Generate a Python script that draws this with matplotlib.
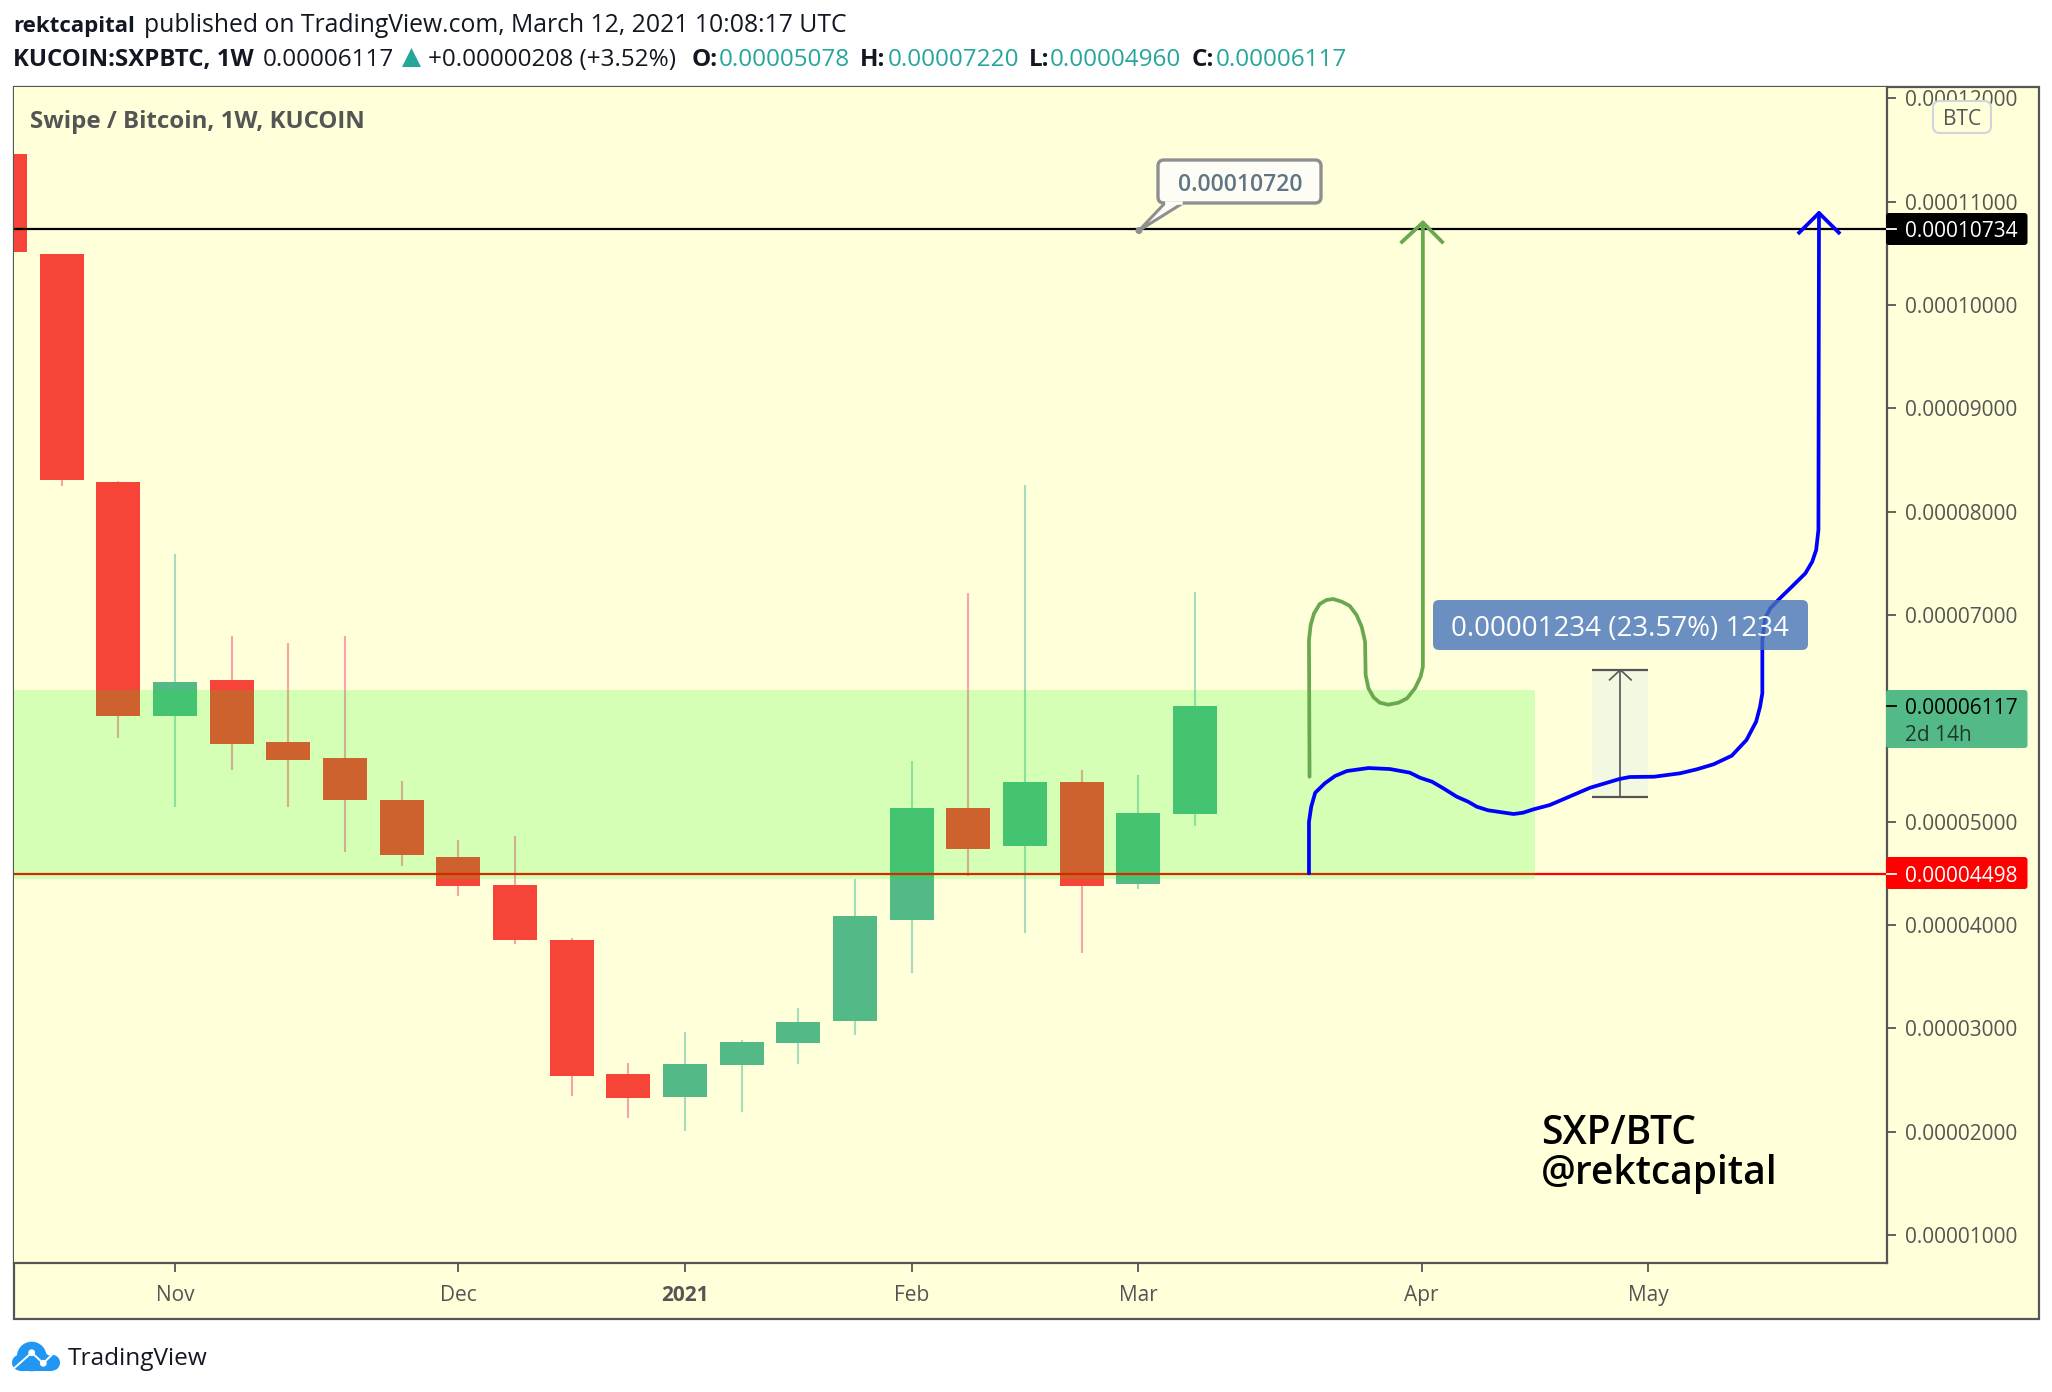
# ========== IMPORTS ==========
import numpy as np
import matplotlib
matplotlib.use("Agg")
import matplotlib.pyplot as plt
from matplotlib.patches import Rectangle, FancyBboxPatch, Polygon, Circle
from matplotlib.transforms import blended_transform_factory

plt.rcParams['font.family'] = ['Open Sans', 'DejaVu Sans']
plt.rcParams['ytick.alignment'] = 'center_baseline'

# ========== DATA (prices in satoshi, x in weeks from the Nov candle) ==========
weeks = list(range(-3, 19))
opens = [11460, 10490, 8290, 6020, 6370, 5770, 5620, 5210, 4660, 4390, 3860, 2560,
         2340, 2650, 2860, 3070, 4050, 5130, 4770, 5380, 4400, 5078]
closes = [10516, 8310, 6020, 6350, 5750, 5600, 5210, 4680, 4380, 3860, 2540, 2330,
          2660, 2870, 3060, 4090, 5130, 4740, 5380, 4380, 5080, 6117]
highs = [11460, 10490, 8300, 7590, 6800, 6730, 6800, 5390, 4820, 4860, 3880, 2670,
         2970, 2890, 3200, 4450, 5590, 7210, 8260, 5500, 5450, 7220]
lows = [10516, 8250, 5810, 5140, 5500, 5140, 4710, 4570, 4280, 3820, 2350, 2130,
        2010, 2190, 2660, 2940, 3540, 4480, 3920, 3730, 4350, 4960]

# the 6000 tick sits behind the last price label in the original
price_ticks = [1000, 2000, 3000, 4000, 5000, 7000, 8000, 9000, 10000, 11000, 12000]
date_ticks = [0, 5, 9, 13, 17, 22, 26]
date_labels = ['Nov', 'Dec', '2021', 'Feb', 'Mar', 'Apr', 'May']

top_line = 10734
bottom_line = 4498
callout_week = 17.01
callout_price = 10720
zone_low = 4446
zone_high = 6275
zone_end = 24.0
ruler_low = 5236
ruler_high = 6470
ruler_weeks = [25.01, 26.0]

green_x = [20.02, 20.01, 20.04, 20.10, 20.20, 20.32, 20.44, 20.59, 20.73, 20.85, 20.94, 21.00,
           21.01, 21.06, 21.15, 21.26, 21.41, 21.59, 21.74, 21.88, 21.98, 22.02, 22.02]
green_y = [5436, 6759, 6904, 7017, 7107, 7146, 7155, 7129, 7088, 7000, 6887, 6742,
           6420, 6291, 6204, 6152, 6133, 6152, 6194, 6291, 6403, 6500, 10798]
green_head_x = [21.65, 22.02, 22.36]
green_head_y = [10610, 10798, 10610]

blue_x = [20.01, 20.01, 20.05, 20.12, 20.29, 20.47, 20.68, 21.06, 21.44, 21.79, 21.97, 22.18,
          22.38, 22.62, 22.82, 22.97, 23.17, 23.62, 23.79, 23.97, 24.26, 24.63, 24.97, 25.49,
          25.67, 26.10, 26.56, 26.85, 27.15, 27.47, 27.73, 27.90, 27.97, 28.01, 28.01, 28.06,
          28.15, 28.32, 28.53, 28.77, 28.89, 28.96, 29.00, 29.01]
blue_y = [4501, 5000, 5146, 5281, 5372, 5443, 5491, 5520, 5510, 5475, 5426, 5388,
          5324, 5242, 5194, 5146, 5111, 5075, 5088, 5120, 5162, 5249, 5329, 5414,
          5433, 5436, 5469, 5507, 5556, 5639, 5791, 5968, 6113, 6243, 6759, 6969,
          7065, 7162, 7274, 7404, 7516, 7629, 7823, 10890]
blue_head_x = [28.66, 29.01, 29.36]
blue_head_y = [10700, 10890, 10700]

# ========== COLORS ==========
BG = '#ffffd9'
FRAME = '#555555'
UP = '#52b987'
DOWN = '#f64438'
UP_WICK = '#a6dcbe'
DOWN_WICK = '#f8a2aa'
TEAL = '#26a69a'
INK = '#131722'

# ========== FIGURE LAYOUT ==========
W, H = 2052, 1392
fig = plt.figure(figsize=(W / 100, H / 100), dpi=100, facecolor='white')


def pixel_axes(z):
    a = fig.add_axes([0, 0, 1, 1], zorder=z)
    a.set_xlim(0, W)
    a.set_ylim(H, 0)
    a.set_axis_off()
    return a


bg = pixel_axes(0)
over = pixel_axes(2)
bg.add_patch(Rectangle((13.5, 87), 2025.5, 1232, facecolor=BG, edgecolor=FRAME, linewidth=1.6))

ax = fig.add_axes([13.5 / W, 1 - 1263 / H, (1887 - 13.5) / W, (1263 - 87) / H], zorder=1)
ax.set_facecolor(BG)
ax.set_xlim(-2.85, 30.21)
ax.set_ylim(731, 12109)
for side in ['left', 'top']:
    ax.spines[side].set_visible(False)
for side in ['right', 'bottom']:
    ax.spines[side].set_color(FRAME)
    ax.spines[side].set_linewidth(1.6)

# ========== CANDLES ==========
for w, o, c, hi, lo in zip(weeks, opens, closes, highs, lows):
    up = c >= o
    ax.vlines(w, lo, hi, color=UP_WICK if up else DOWN_WICK, linewidth=1.5, zorder=2)
    ax.bar(w, abs(c - o), bottom=min(o, c), width=0.776, color=UP if up else DOWN, zorder=3)

# ========== LEVELS AND DRAWINGS ==========
ax.axhline(top_line, color='black', linewidth=1.6, zorder=4)
ax.axhline(bottom_line, color='#ff0000', linewidth=1.6, zorder=4)
ax.add_patch(Rectangle((-2.85, zone_low), zone_end + 2.85, zone_high - zone_low,
                       facecolor='#00ff00', alpha=0.165, edgecolor='none', zorder=5))

# ruler
ax.add_patch(Rectangle((ruler_weeks[0], ruler_low), ruler_weeks[1] - ruler_weeks[0],
                       ruler_high - ruler_low, facecolor='#f3f8e0', edgecolor='none', zorder=6))
ruler_mid = sum(ruler_weeks) / 2
ax.hlines([ruler_low, ruler_high], ruler_weeks[0], ruler_weeks[1], color=FRAME, linewidth=1.6, zorder=7)
ax.plot([ruler_mid, ruler_mid], [ruler_low, ruler_high], color=FRAME, linewidth=1.2, zorder=7)
ax.plot([ruler_mid - 0.19, ruler_mid, ruler_mid + 0.19],
        [ruler_high - 97, ruler_high, ruler_high - 97], color=FRAME, linewidth=1.2, zorder=7)

# hand drawn paths
ax.plot(green_x, green_y, color='#6aa84f', linewidth=2.7, solid_joinstyle='round', solid_capstyle='round', zorder=8)
ax.plot(green_head_x, green_head_y, color='#6aa84f', linewidth=2.7, zorder=8)
ax.plot(blue_x, blue_y, color='#0000ff', linewidth=2.7, solid_joinstyle='round', solid_capstyle='round', zorder=8)
ax.plot(blue_head_x, blue_head_y, color='#0000ff', linewidth=2.7, zorder=8)

# ========== AXES TICKS ==========
ax.yaxis.tick_right()
ax.set_yticks(price_ticks)
ax.set_yticklabels([f"{p / 1e8:.8f}" for p in price_ticks], fontsize=15, color=FRAME)
ax.tick_params(axis='y', length=6.5, width=1.3, color=FRAME, pad=6.5)
ax.set_xticks(date_ticks)
ax.set_xticklabels(date_labels, fontsize=15, color=FRAME)
ax.tick_params(axis='x', length=6.5, width=1.3, color=FRAME, pad=9)
ax.get_xticklabels()[2].set_fontweight('bold')

# ========== PRICE LABELS ON THE SCALE ==========
price_tr = blended_transform_factory(over.transData, ax.transData)


def price_label(price, text, box, fg, tick, top, bottom):
    over.add_patch(FancyBboxPatch((1886, top), 141.5, bottom - top,
                                  boxstyle="round,pad=0,rounding_size=3", facecolor=box, edgecolor='none'))
    over.text(1905, price, text, transform=price_tr, color=fg, fontsize=15, va='center_baseline', ha='left')
    over.plot([1887, 1896], [price, price], transform=price_tr, color=tick, linewidth=1.3)


price_label(top_line, f"{top_line / 1e8:.8f}", 'black', 'white', 'white', 213, 245)
price_label(bottom_line, f"{bottom_line / 1e8:.8f}", '#ff0000', 'white', 'white', 857, 889)
price_label(closes[-1], f"{closes[-1] / 1e8:.8f}", UP, 'black', 'black', 690, 748)
over.text(1905, 733, "2d 14h", color='#1e3a2c', fontsize=15, va='center_baseline', ha='left')

# currency badge
over.add_patch(FancyBboxPatch((1933, 101), 58, 32, boxstyle="round,pad=0,rounding_size=7",
                              facecolor=BG, edgecolor='#d1d4dc', linewidth=1.5))
over.text(1962, 117, "BTC", color=FRAME, fontsize=15, ha='center', va='center_baseline')

# ========== CALLOUT AND MEASURE LABEL ==========
anchor_x = ax.transData.transform((callout_week, callout_price))
anchor_x = over.transData.inverted().transform(anchor_x)
over.add_patch(FancyBboxPatch((1158, 160), 163, 43, boxstyle="round,pad=0,rounding_size=6",
                              facecolor='#fdfdf6', edgecolor='#8f8f8f', linewidth=2.4))
over.add_patch(Polygon([(1165, 203), tuple(anchor_x), (1183, 203)], closed=False,
                       facecolor='#fdfdf6', edgecolor='#8f8f8f', linewidth=2.2))
over.plot([1167, 1181], [203, 203], color='#fdfdf6', linewidth=2.6)
over.add_patch(Circle(tuple(anchor_x), 3.5, facecolor='#8f8f8f', edgecolor='none'))
over.text(1240, 182, "0.00010720", color='#5f7585', fontsize=16.5, fontweight='semibold',
          ha='center', va='center_baseline')

over.add_patch(FancyBboxPatch((1433, 600), 375, 50, boxstyle="round,pad=0,rounding_size=6",
                              facecolor='#4573ba', edgecolor='none', alpha=0.8))
over.text(1620, 626, "0.00001234 (23.57%) 1234", color='white', fontsize=20, ha='center', va='center_baseline')

# ========== HEADER AND TITLES ==========
over.text(13, 32, "rektcapital", fontsize=16, fontweight='bold', color=INK)
over.text(144, 32, "published on TradingView.com, March 12, 2021 10:08:17 UTC", fontsize=17.8, color=INK)

over.text(13, 66, "KUCOIN:SXPBTC, 1W", fontsize=17.3, fontweight='bold', color=INK)
over.text(263, 66, "0.00006117", fontsize=17.5, color=INK)
over.add_patch(Polygon([(402, 67), (411.5, 48), (421, 67)], facecolor=TEAL, edgecolor='none'))
over.text(428, 66, "+0.00000208 (+3.52%)", fontsize=17.5, color=INK)
header_ohlc = [("O:", 692, 719, opens[-1]), ("H:", 860, 887.5, highs[-1]),
               ("L:", 1029, 1050, lows[-1]), ("C:", 1192, 1216, closes[-1])]
for name, x_name, x_val, val in header_ohlc:
    over.text(x_name, 66, name, fontsize=17.5, fontweight='bold', color=INK)
    over.text(x_val, 66, f"{val / 1e8:.8f}", fontsize=17.5, color=TEAL)

over.text(30, 128, "Swipe / Bitcoin, 1W, KUCOIN", fontsize=17.3, fontweight='bold', color=FRAME)
over.text(1541, 1144, "SXP/BTC", fontsize=28, color='black', fontweight='semibold')
over.text(1541, 1184, "@rektcapital", fontsize=28, color='black', fontweight='semibold')

# ========== TRADINGVIEW LOGO ==========
logo_blue = '#2196f3'
for cx, cy, r in [(31.7, 1356.5, 14.8), (20, 1362.7, 8), (52, 1362.7, 8), (43, 1360, 7)]:
    over.add_patch(Circle((cx, cy), r, facecolor=logo_blue, edgecolor='none'))
over.add_patch(Rectangle((20, 1360), 32, 10.7, facecolor=logo_blue, edgecolor='none'))
over.plot([14, 31.7, 43.3, 57.3], [1368.3, 1352.7, 1363.3, 1349.3], color='white', linewidth=1.4)
for cx, cy in [(31.7, 1352.7), (43.3, 1363.3)]:
    over.add_patch(Circle((cx, cy), 3.4, facecolor='white', edgecolor='none'))
over.text(68, 1365, "TradingView", fontsize=17.6, color=INK)

fig.savefig('out.png', dpi=100, facecolor='white')
